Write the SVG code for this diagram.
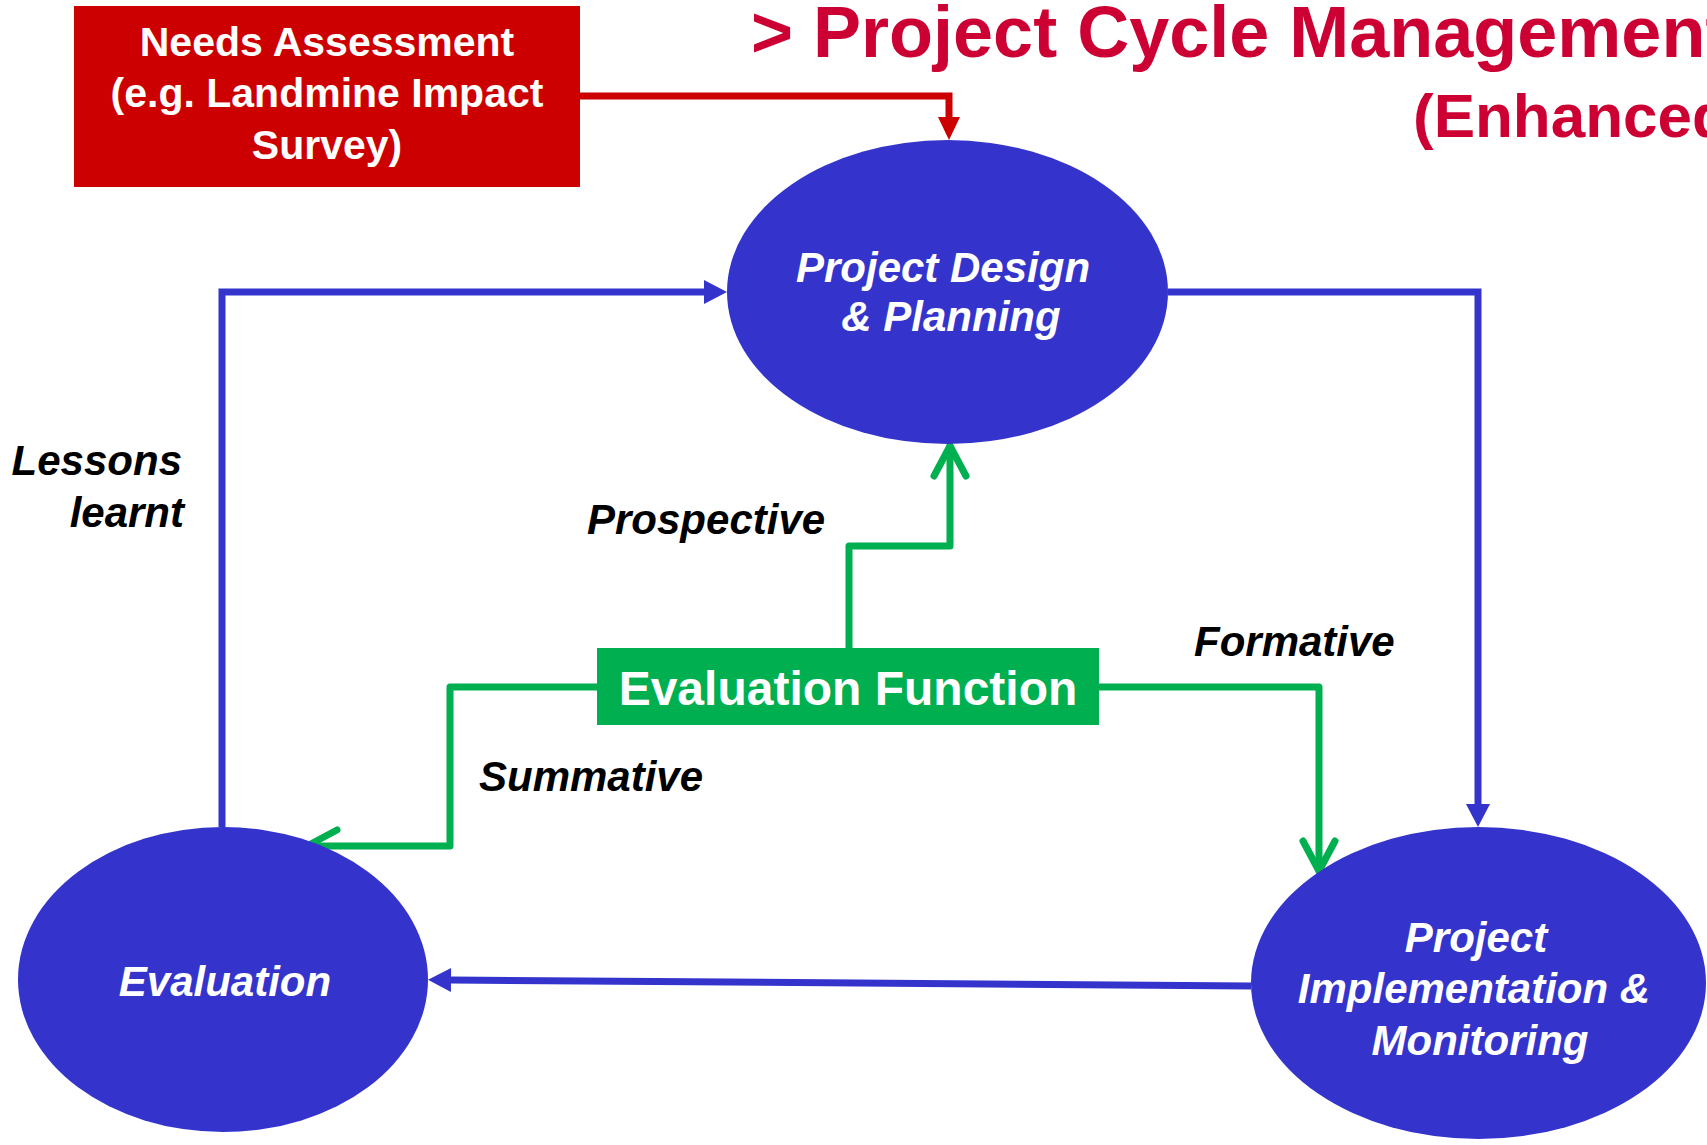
<svg xmlns="http://www.w3.org/2000/svg" width="1707" height="1145" viewBox="0 0 1707 1145">
  <style>
    .lbl { font-family: "Liberation Sans", Arial, sans-serif; font-weight: bold; font-style: italic; font-size: 42px; fill: #000; }
    .ntx { font-family: "Liberation Sans", Arial, sans-serif; font-weight: bold; font-style: italic; font-size: 42px; fill: #fff; text-anchor: middle; }
    .btx { font-family: "Liberation Sans", Arial, sans-serif; font-weight: bold; fill: #fff; text-anchor: middle; }
    .title { font-family: "Liberation Sans", Arial, sans-serif; font-weight: bold; fill: #CC0033; }
    .ell { fill: #3434CC; }
    .blue { fill: none; stroke: #3434CC; stroke-width: 7; }
    .green { fill: none; stroke: #00B050; stroke-width: 7; stroke-linejoin: round; stroke-linecap: round; }
    .red { fill: none; stroke: #CC0000; stroke-width: 7; }
  </style>
  <defs>
    <marker id="blueArrow" markerUnits="userSpaceOnUse" markerWidth="24" markerHeight="24" refX="0" refY="12" orient="auto" overflow="visible">
      <path d="M0,0 L23,12 L0,24 Z" fill="#3434CC"/>
    </marker>
    <marker id="redArrow" markerUnits="userSpaceOnUse" markerWidth="24" markerHeight="22" refX="0" refY="11" orient="auto" overflow="visible">
      <path d="M0,0 L23,11 L0,22 Z" fill="#CC0000"/>
    </marker>
    <marker id="greenArrow" markerUnits="userSpaceOnUse" markerWidth="40" markerHeight="40" refX="0" refY="0" orient="auto" overflow="visible">
      <path d="M-30,-16 L0,0 L-30,16" fill="none" stroke="#00B050" stroke-width="7" stroke-linecap="round" stroke-linejoin="round"/>
    </marker>
  </defs>

  <rect width="1707" height="1145" fill="#fff"/>

  <g id="title">
    <text class="title" x="751" y="57" font-size="72">&gt; Project Cycle Management</text>
    <text class="title" x="1413" y="137" font-size="62">(Enhanced)</text>
  </g>

  <g id="connectors">
    <path class="red" d="M579,96 H949 V117" marker-end="url(#redArrow)"/>
    <path class="blue" d="M222,827 V292 H704" marker-end="url(#blueArrow)"/>
    <path class="blue" d="M1168,292 H1478 V804" marker-end="url(#blueArrow)"/>
    <path class="blue" d="M1251,986 L451,980" marker-end="url(#blueArrow)"/>
    <path class="green" d="M849,648 V546 H950 V446" marker-end="url(#greenArrow)"/>
    <path class="green" d="M1099,687 H1319 V871" marker-end="url(#greenArrow)"/>
    <path class="green" d="M597,687 H450 V846 H307" marker-end="url(#greenArrow)"/>
  </g>

  <g id="needs-assessment">
    <rect x="74" y="6" width="506" height="181" fill="#CC0000"/>
    <text class="btx" font-size="41" x="327" y="56">Needs Assessment</text>
    <text class="btx" font-size="41" x="327" y="107">(e.g. Landmine Impact</text>
    <text class="btx" font-size="41" x="327" y="159">Survey)</text>
  </g>

  <g id="project-design">
    <ellipse class="ell" cx="947.5" cy="292" rx="220.5" ry="152"/>
    <text class="ntx" x="943" y="282">Project Design</text>
    <text class="ntx" x="951" y="331">&amp; Planning</text>
  </g>

  <g id="implementation">
    <ellipse class="ell" cx="1478.5" cy="983" rx="227.5" ry="156"/>
    <text class="ntx" x="1476" y="952">Project</text>
    <text class="ntx" x="1474" y="1003">Implementation &amp;</text>
    <text class="ntx" x="1480" y="1055">Monitoring</text>
  </g>

  <g id="evaluation">
    <ellipse class="ell" cx="223" cy="979.5" rx="205" ry="152.5"/>
    <text class="ntx" x="225" y="996">Evaluation</text>
  </g>

  <g id="evaluation-function">
    <rect x="597" y="648" width="502" height="77" fill="#00B050"/>
    <text class="btx" font-size="48" x="848" y="705">Evaluation Function</text>
  </g>

  <g id="labels">
    <text class="lbl" x="182" y="475" text-anchor="end">Lessons</text>
    <text class="lbl" x="184" y="527" text-anchor="end">learnt</text>
    <text class="lbl" x="587" y="534">Prospective</text>
    <text class="lbl" x="1194" y="656">Formative</text>
    <text class="lbl" x="479" y="791">Summative</text>
  </g>
</svg>
